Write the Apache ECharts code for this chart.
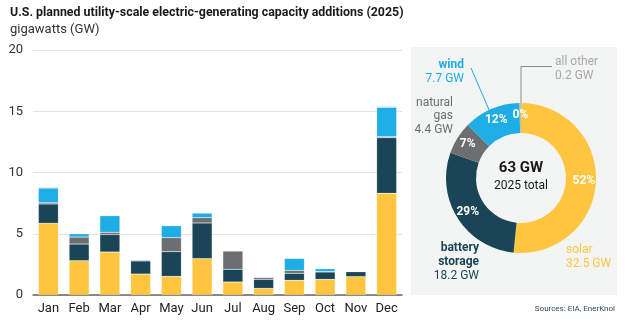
<!DOCTYPE html>
<html>
<head>
<meta charset="utf-8">
<script src="https://cdn.jsdelivr.net/npm/echarts@6/dist/echarts.min.js"></script>
<style>html,body{margin:0;padding:0;background:#fff}#c{width:625px;height:325px}</style>
</head>
<body>
<div id="c"></div>
<script>
var months = ['Jan','Feb','Mar','Apr','May','Jun','Jul','Aug','Sep','Oct','Nov','Dec'];
var solar   = [5.85, 2.80, 3.51, 1.71, 1.52, 2.97, 1.06, 0.54, 1.20, 1.28, 1.50, 8.30];
var battery = [1.58, 1.36, 1.42, 1.07, 2.02, 2.91, 1.04, 0.74, 0.57, 0.60, 0.40, 4.54];
var gas     = [0.10, 0.57, 0.19, 0.08, 1.14, 0.43, 1.50, 0.16, 0.24, 0.03, 0.03, 0.08];
var wind    = [1.20, 0.27, 1.36, 0.00, 0.98, 0.38, 0.00, 0.00, 0.98, 0.24, 0.00, 2.40];
var other   = [0.08, 0.00, 0.00, 0.00, 0.00, 0.04, 0.00, 0.00, 0.00, 0.00, 0.00, 0.08];
var yTicks = [0, 5, 10, 15, 20];

var pieNames  = ['solar', 'battery storage', 'natural gas', 'wind', 'all other'];
var pieValues = [32.5, 18.2, 4.4, 7.7, 0.2];
var totalLabel = '63 GW';
var totalSub = '2025 total';

var C = {solar:'#FFC53F', battery:'#1A4556', gas:'#6D6E70', wind:'#1EADE5', other:'#BEBEBE'};
var pieColors = [C.solar, C.battery, C.gas, C.wind, C.other];
var FONT = 'Roboto';

var chart = echarts.init(document.getElementById('c'), null, {renderer:'canvas'});
var total = pieValues.reduce(function(a,b){return a+b;},0);

function barSeries(name, data, color){
  return {name:name, type:'bar', stack:'t', data:data, barWidth:20,
    itemStyle:{color:color, borderColor:'rgba(255,255,255,0.35)', borderWidth:0.5}};
}

var option = {
  animation:false,
  textStyle:{fontFamily:FONT},
  grid:{left:33, right:223, top:50, bottom:30},
  xAxis:{type:'category', data:months,
    axisLine:{lineStyle:{color:'#666', width:1.5}}, axisTick:{show:false},
    axisLabel:{color:'#222', fontSize:13, margin:7, interval:0, fontFamily:FONT}},
  yAxis:{type:'value', min:0, max:20, interval:5,
    axisLabel:{color:'#333', fontSize:13, margin:10, fontFamily:FONT,
      formatter:function(v){return yTicks.indexOf(v)>=0 ? String(v) : '';}},
    splitLine:{lineStyle:{color:'#E3E3E3', width:1}}, axisLine:{show:false}, axisTick:{show:false}},
  series:[
    barSeries('solar', solar, C.solar),
    barSeries('battery storage', battery, C.battery),
    barSeries('natural gas', gas, C.gas),
    barSeries('wind', wind, C.wind),
    barSeries('all other', other, C.other),
    {type:'pie', center:[521,178], radius:[45,75], startAngle:90, clockwise:true,
      z:5, silent:true,
      data:pieNames.map(function(n,i){return {name:n, value:pieValues[i], itemStyle:{color:pieColors[i]}};}),
      label:{position:'inside', color:'#fff', fontSize:12, fontWeight:'bold', fontFamily:FONT,
        formatter:function(p){return Math.round(p.value/total*100)+'%';}},
      labelLine:{show:false}}
  ],
  graphic:[
    {type:'rect', z:-10, shape:{x:411, y:47, width:206, height:248}, style:{fill:'#F3F4F4'}},
    {type:'text', left:10, top:7, style:{text:'U.S. planned utility-scale electric-generating capacity additions (2025)', font:'bold 12.4px '+FONT, fill:'#1a1a1a'}},
    {type:'text', left:10, top:23, style:{text:'gigawatts (GW)', font:'13px '+FONT, fill:'#333'}},
    {type:'text', z:10, style:{x:521, y:168, text:totalLabel, font:'bold 15px '+FONT, fill:'#1a1a1a', textAlign:'center', textVerticalAlign:'middle'}},
    {type:'text', z:10, style:{x:521, y:186, text:totalSub, font:'12px '+FONT, fill:'#1a1a1a', textAlign:'center', textVerticalAlign:'middle'}},
    // wind
    {type:'text', z:10, style:{x:464, y:65, text:'wind', font:'bold 12px '+FONT, fill:C.wind, textAlign:'right', textVerticalAlign:'middle'}},
    {type:'text', z:10, style:{x:464, y:79, text:'7.7 GW', font:'12px '+FONT, fill:C.wind, textAlign:'right', textVerticalAlign:'middle'}},
    {type:'line', z:10, shape:{x1:471, y1:68, x2:493, y2:119}, style:{stroke:C.wind, lineWidth:1}},
    // natural gas
    {type:'text', z:10, style:{x:453, y:103, text:'natural', font:'12px '+FONT, fill:'#6D6E70', textAlign:'right', textVerticalAlign:'middle'}},
    {type:'text', z:10, style:{x:453, y:116, text:'gas', font:'12px '+FONT, fill:'#6D6E70', textAlign:'right', textVerticalAlign:'middle'}},
    {type:'text', z:10, style:{x:453, y:130, text:'4.4 GW', font:'12px '+FONT, fill:'#6D6E70', textAlign:'right', textVerticalAlign:'middle'}},
    // all other
    {type:'polyline', z:10, shape:{points:[[521,103],[521,66.5],[552,66.5]]}, style:{stroke:'#8A8A8A', lineWidth:1, fill:null}},
    {type:'text', z:10, style:{x:555, y:62, text:'all other', font:'12px '+FONT, fill:'#A8A8A8', textAlign:'left', textVerticalAlign:'middle'}},
    {type:'text', z:10, style:{x:555, y:76, text:'0.2 GW', font:'12px '+FONT, fill:'#A8A8A8', textAlign:'left', textVerticalAlign:'middle'}},
    // battery storage
    {type:'text', z:10, style:{x:479, y:248, text:'battery', font:'bold 12px '+FONT, fill:C.battery, textAlign:'right', textVerticalAlign:'middle'}},
    {type:'text', z:10, style:{x:479, y:262, text:'storage', font:'bold 12px '+FONT, fill:C.battery, textAlign:'right', textVerticalAlign:'middle'}},
    {type:'text', z:10, style:{x:479, y:276, text:'18.2 GW', font:'12px '+FONT, fill:C.battery, textAlign:'right', textVerticalAlign:'middle'}},
    // solar
    {type:'text', z:10, style:{x:566, y:250, text:'solar', font:'12px '+FONT, fill:C.solar, textAlign:'left', textVerticalAlign:'middle'}},
    {type:'text', z:10, style:{x:566, y:264, text:'32.5 GW', font:'12px '+FONT, fill:C.solar, textAlign:'left', textVerticalAlign:'middle'}},
    // source
    {type:'text', z:10, style:{x:615, y:309, text:'Sources: EIA, EnerKnol', font:'8px '+FONT, fill:'#2E4A5E', textAlign:'right', textVerticalAlign:'middle'}}
  ]
};
chart.setOption(option);
</script>
</body>
</html>
